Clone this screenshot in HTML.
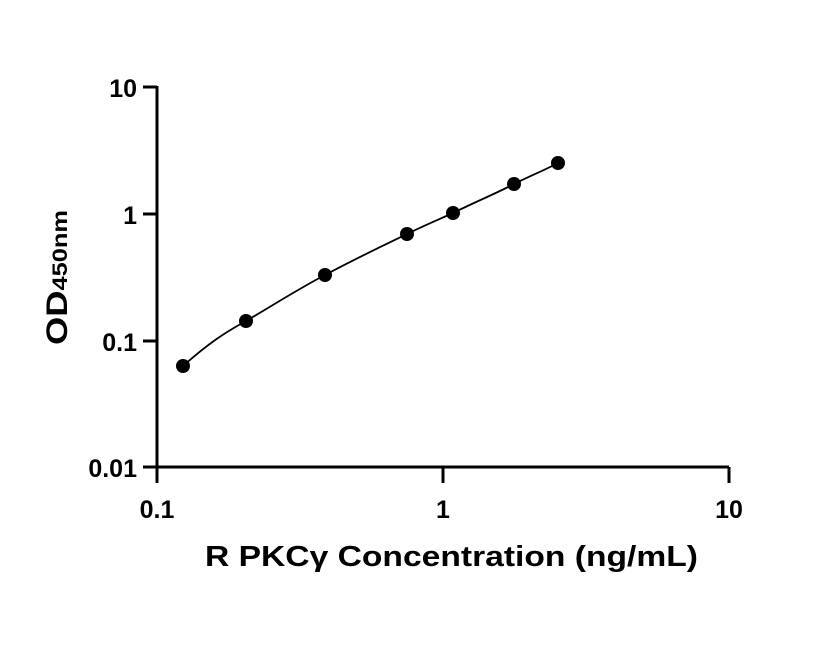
<!DOCTYPE html>
<html><head><style>body{margin:0;background:#fff}</style></head><body>
<svg width="816" height="640" xmlns="http://www.w3.org/2000/svg" font-family="Liberation Sans, sans-serif" font-weight="bold">
<g stroke="#000" stroke-width="3" fill="none">
<path d="M157,86 V467 H729"/>
<path d="M143,87 H157 M143,214 H157 M143,341 H157 M143,467 H157"/>
<path d="M157,467 V483 M443,467 V483 M729,467 V483"/>
</g>
<path d="M183,366 C210,342 226,332 246,321 C275,304 300,288 325,275 C355,259 380,247 407,234 C425,225 440,219 453,213 C475,202 495,194 514,184 C532,175 545,170 558,163" stroke="#000" stroke-width="1.8" fill="none"/>
<g fill="#000">
<circle cx="183" cy="366" r="7"/><circle cx="246" cy="321" r="7"/><circle cx="325" cy="275" r="7"/>
<circle cx="407" cy="234" r="7"/><circle cx="453" cy="213" r="7"/><circle cx="514" cy="184" r="7"/><circle cx="558" cy="163" r="7"/>
</g>
<g font-size="25" text-anchor="end">
<text x="137" y="97">10</text><text x="137" y="224">1</text><text x="137" y="351">0.1</text><text x="137" y="477">0.01</text>
</g>
<g font-size="25" text-anchor="middle">
<text x="157" y="518">0.1</text><text x="443" y="518">1</text><text x="729" y="518">10</text>
</g>
<text x="205" y="566" font-size="29" textLength="493" lengthAdjust="spacingAndGlyphs">R PKCγ Concentration (ng/mL)</text>
<text transform="translate(67,345) rotate(-90)" font-size="30" textLength="135" lengthAdjust="spacingAndGlyphs">OD<tspan font-size="21">450nm</tspan></text>
</svg>
</body></html>
